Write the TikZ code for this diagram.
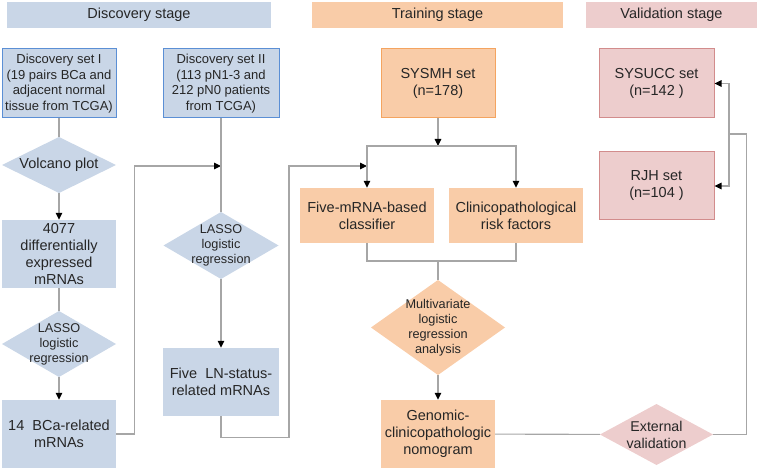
\documentclass[tikz,border=0pt]{standalone}
\usepackage{fontspec}
\setmainfont{Liberation Sans}
\usetikzlibrary{arrows.meta}

\definecolor{bluefill}{RGB}{201,214,231}
\definecolor{blueline}{RGB}{91,143,213}
\definecolor{orafill}{RGB}{249,204,168}
\definecolor{oraline}{RGB}{244,164,96}
\definecolor{pinkfill}{RGB}{237,205,205}
\definecolor{pinkline}{RGB}{210,140,140}
\definecolor{linkgray}{RGB}{166,166,166}

\begin{document}
\begin{tikzpicture}[x=1pt, y=-1pt,
	every node/.style={inner sep=0pt, align=center, text=black!85,
		font=\fontsize{14.5}{17}\selectfont},
	box/.style 2 args={rectangle, minimum width=#1, minimum height=#2},
	small/.style={font=\fontsize{13}{15.5}\selectfont},
	tiny/.style={font=\fontsize{12.7}{15}\selectfont},
	dia/.style={path picture={\fill[#1] (path picture bounding box.north)
		-- (path picture bounding box.east) -- (path picture bounding box.south)
		-- (path picture bounding box.west) -- cycle;}},
	link/.style={draw=linkgray, line width=1.1pt},
	arr/.style={link, -{Triangle[length=7pt, width=6.5pt, color=black]}}]
		
		\useasboundingbox (0,0) rectangle (758,470);
		
		%%% stage headers
		\node[box={264}{26}, fill=bluefill] (hdisc) at (139,15) {Discovery stage};
		\node[box={251}{26}, fill=orafill] (htrain) at (437.5,15) {Training stage};
		\node[box={171}{26}, fill=pinkfill] (hvalid) at (671.5,15) {Validation stage};
		
		%%% discovery stage
		\node[box={114}{69}, fill=bluefill, draw=blueline, line width=1pt, small] (setone) at (59,83.5)
			{Discovery set I\\(19 pairs BCa and\\adjacent normal\\tissue from TCGA)};
		\node[box={114}{56}, dia=bluefill] (volcano) at (59,165) {Volcano plot};
		\node[box={114}{68}, fill=bluefill] (degs) at (59,254)
			{4077\\differentially\\expressed\\mRNAs};
		\node[box={114}{66}, dia=bluefill, tiny] (lassoone) at (59,344)
			{LASSO\\logistic\\regression};
		\node[box={114}{68}, fill=bluefill] (bca) at (59,434)
			{14\ \ BCa-related\\mRNAs};
		
		\node[box={116}{69}, fill=bluefill, draw=blueline, line width=1pt, small] (settwo) at (221,83.5)
			{Discovery set II\\(113 pN1-3 and\\212 pN0 patients\\from TCGA)};
		\node[box={115}{67}, dia=bluefill, tiny] (lassotwo) at (221,245.5)
			{LASSO\\logistic\\regression};
		\node[box={116}{68}, fill=bluefill] (lnbox) at (221,382)
			{Five\ \ LN-status-\\related mRNAs};
		
		%%% training stage
		\node[box={114}{69}, fill=orafill, draw=oraline, line width=1pt] (sysmh) at (438,83.5)
			{SYSMH set\\(n=178)};
		\node[box={134}{55}, fill=orafill] (classifier) at (367,215.5)
			{Five-mRNA-based\\classifier};
		\node[box={134}{55}, fill=orafill] (clinico) at (516,215.5)
			{Clinicopathological\\risk factors};
		\node[box={134}{95}, dia=orafill, tiny] (multi) at (438,327.5)
			{Multivariate\\logistic\\regression\\analysis};
		\node[box={114}{68}, fill=orafill] (nomogram) at (438,434)
			{Genomic-\\clinicopathologic\\nomogram};
		
		%%% validation stage
		\node[box={115}{69}, fill=pinkfill, draw=pinkline, line width=1pt] (sysucc) at (656.5,83.5)
			{SYSUCC set\\(n=142\ )};
		\node[box={115}{68}, fill=pinkfill, draw=pinkline, line width=1pt] (rjh) at (656.5,186)
			{RJH set\\(n=104\ )};
		\node[box={113}{61}, dia=pinkfill, font=\fontsize{14.2}{17}\selectfont] (external) at (656.5,434.5)
			{External\\validation};
		
		%%% junctions
		\coordinate (jtwo) at (221,166);
		\coordinate (jthree) at (367,166);
		\coordinate (jfour) at (438,146);
		\coordinate (jfive) at (438,261);
		\coordinate (jsix) at (729,134);
		
		%%% set I
		\draw[link] (setone) -- (volcano);
		\draw[arr] (volcano) -- (degs);
		\draw[link] (degs) -- (lassoone);
		\draw[arr] (lassoone) -- (bca);
		\draw[arr] (bca.east) -- ++(18,0) |- (jtwo);
		
		%%% set II
		\draw[link] (settwo) -- (lassotwo);
		\draw[arr] (lassotwo) -- (lnbox);
		\draw[arr] (lnbox.south) -- ++(0,21) -| ([xshift=-78pt]jthree) -- (jthree);
		
		%%% SYSMH
		\draw[arr] (sysmh) -- (jfour);
		\draw[arr] (jfour) -| (classifier.north);
		\draw[arr] (jfour) -| (clinico.north);
		\draw[link] (classifier.south) |- (jfive) -| (clinico.south);
		\draw[link] (jfive) -- (multi.north);
		\draw[arr] (multi) -- (nomogram);
		
		%%% validation
		\draw[link] (nomogram) -- (external);
		\draw[link] (external.east) -- ++(33,0) |- (jsix);
		\draw[arr] (jsix) |- (sysucc.east);
		\draw[arr] (jsix) |- (rjh.east);
		
	\end{tikzpicture}
\end{document}
